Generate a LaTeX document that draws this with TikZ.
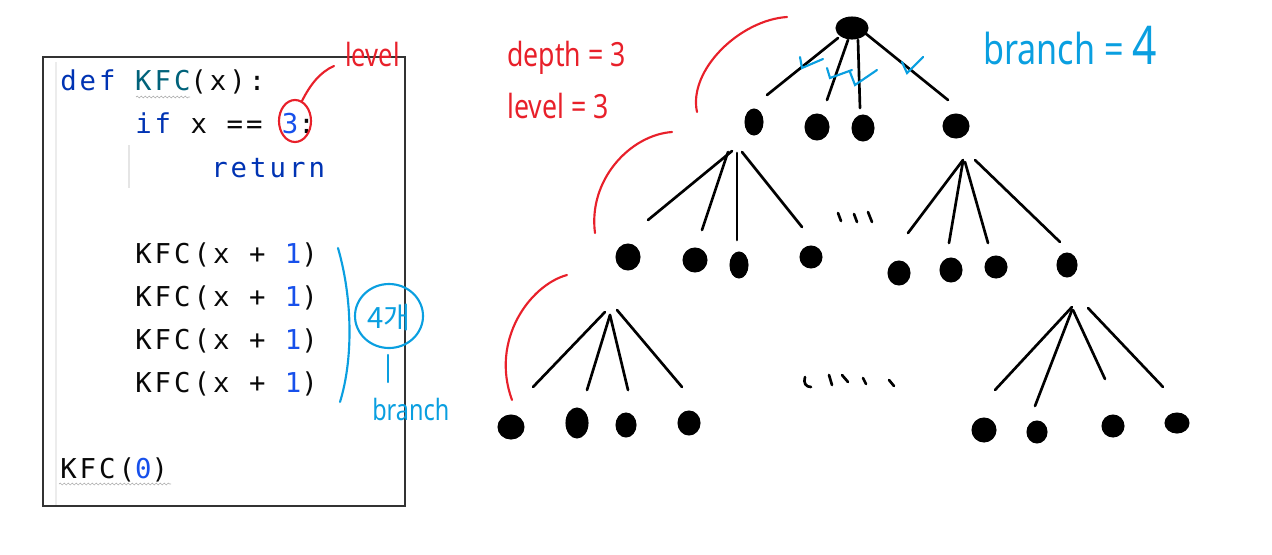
\documentclass[tikz,border=0pt]{standalone}
\usepackage{fontspec}
\usetikzlibrary{shapes.geometric,decorations.pathmorphing}
\newfontfamily\codefont{DejaVu Sans Mono}[LetterSpace=11]
\newfontfamily\handfont{Noto Sans}[FakeStretch=0.8]
\newfontfamily\krfont{Noto Sans CJK KR}
\definecolor{kw}{HTML}{0033B3}
\definecolor{fn}{HTML}{00627A}
\definecolor{num}{HTML}{1750EB}
\definecolor{txt}{HTML}{080808}
\definecolor{hred}{HTML}{E8202A}
\definecolor{hblue}{HTML}{0A9FE0}
\begin{document}
\begin{tikzpicture}[x=0.75pt,y=-0.75pt,
  code/.style={anchor=base west, inner sep=0pt, font=\codefont\fontsize{20.5}{24}\selectfont, text=txt},
  blob/.style 2 args={ellipse, fill=black, draw=black, line width=0.8pt, inner sep=0pt, minimum width=#1*1.5pt, minimum height=#2*1.5pt},
  edge/.style={line width=2pt, line cap=round, black},
  redpen/.style={hred, line width=1.6pt, line cap=round},
  bluepen/.style={hblue, line width=1.6pt, line cap=round},
  inkpen/.style={black, line width=2pt, line cap=round},
  hand/.style={inner sep=0pt, anchor=base west},
  wavy/.style={gray!60, line width=0.5pt, decorate, decoration={snake, amplitude=0.7pt, segment length=3pt}}]
\useasboundingbox (0,0) rectangle (1272,554);

% ---------- code panel ----------
\draw[gray!15, line width=1pt] (56,62) -- (56,506);
\draw[gray!20, line width=0.8pt] (129,145) -- (129,188);
\draw[black!80, line width=0.9pt] (43,57) rectangle (405,506);
\node[code] (l1) at (60,90) {{\color{kw}def} {\color{fn}KFC}(x):};
\node[code] (l2) at (135,133) {{\color{kw}if} x == {\color{num}3}:};
\node[code] (l3) at (211,177) {{\color{kw}return}};
\node[code] (l4) at (135,263) {KFC(x + {\color{num}1})};
\node[code] (l5) at (135,306) {KFC(x + {\color{num}1})};
\node[code] (l6) at (135,349) {KFC(x + {\color{num}1})};
\node[code] (l7) at (135,392) {KFC(x + {\color{num}1})};
\node[code] (l8) at (60,478) {KFC({\color{num}0})};
\draw[wavy] (136,97) -- (190,97);
\draw[wavy] (59,484) -- (171,484);

% red annotation on the code
\draw[redpen] (295,121) ellipse [x radius=16, y radius=21];
\draw[redpen] (302,101) .. controls (310,85) and (320,72) .. (334,66);
\node[hand, text=hred, font=\handfont\fontsize{24}{28}\selectfont] (lvl) at (345,66) {level};

% blue annotation on the code
\draw[bluepen] (338,248) .. controls (353,300) and (353,360) .. (340,402);
\draw[bluepen] (389,316) ellipse [x radius=34, y radius=32];
\node[text=hblue, inner sep=0pt, font=\krfont\fontsize{22}{26}\selectfont] (cnt) at (389,318) {4개};
\draw[bluepen] (388,355) -- (388,382);
\node[hand, text=hblue, font=\handfont\fontsize{22}{26}\selectfont] (br) at (372,420) {branch};

% ---------- labels on the right ----------
\node[hand, text=hred, font=\handfont\fontsize{25}{30}\selectfont] (dep) at (507,66) {depth = 3};
\node[hand, text=hred, font=\handfont\fontsize{25}{30}\selectfont] (lev) at (507,118) {level = 3};
\node[hand, text=hblue, font=\handfont\fontsize{32}{36}\selectfont] (brn) at (983,64) {branch = {\fontsize{40}{44}\selectfont 4}};

% red level arcs
\draw[redpen] (697,112) .. controls (688,70) and (740,20) .. (787,17);
\draw[redpen] (595,233) .. controls (588,180) and (630,135) .. (672,132);
\draw[redpen] (512,400) .. controls (490,340) and (530,285) .. (567,275);

% ---------- tree nodes ----------
\node[blob={16}{11}] (root) at (852,28) {};
\node[blob={9}{13}]  (a1) at (754,122) {};
\node[blob={12}{13}] (a2) at (817,127) {};
\node[blob={11}{13}] (a3) at (863,128) {};
\node[blob={13}{12}] (a4) at (956,126) {};
\node[blob={12}{13}] (b1) at (628,257) {};
\node[blob={12}{12}] (b2) at (695,260) {};
\node[blob={9}{13}]  (b3) at (739,265) {};
\node[blob={11}{11}] (b4) at (811,257) {};
\node[blob={11}{12}] (b5) at (899,273) {};
\node[blob={11}{12}] (b6) at (951,270) {};
\node[blob={11}{11}] (b7) at (996,267) {};
\node[blob={10}{12}] (b8) at (1067,265) {};
\node[blob={13}{12}] (c1) at (511,427) {};
\node[blob={11}{15}] (c2) at (577,423) {};
\node[blob={10}{12}] (c3) at (626,425) {};
\node[blob={11}{12}] (c4) at (689,423) {};
\node[blob={12}{12}] (c5) at (984,430) {};
\node[blob={10}{11}] (c6) at (1037,432) {};
\node[blob={11}{11}] (c7) at (1113,426) {};
\node[blob={12}{10}] (c8) at (1177,423) {};

% ---------- tree edges ----------
\draw[edge] ([shift={(-14,10)}]root.center) -- ([shift={(13,-27)}]a1.center);
\draw[edge] ([shift={(-4,12)}]root.center) -- ([shift={(10,-27)}]a2.center);
\draw[edge] ([shift={(6,12)}]root.center) -- ([shift={(-3,-20)}]a3.center);
\draw[edge] ([shift={(13,5)}]root.center) -- ([shift={(-8,-26)}]a4.center);

\draw[edge] ([shift={(-22,29)}]a1.center) -- ([shift={(20,-37)}]b1.center);
\draw[edge] ([shift={(-26,30)}]a1.center) -- ([shift={(7,-30)}]b2.center);
\draw[edge] ([shift={(-17,31)}]a1.center) -- ([shift={(-2,-25)}]b3.center);
\draw[edge] ([shift={(-12,30)}]a1.center) -- ([shift={(-9,-30)}]b4.center);

\draw[edge] ([shift={(7,34)}]a4.center) -- ([shift={(9,-40)}]b5.center);
\draw[edge] ([shift={(7,35)}]a4.center) -- ([shift={(-2,-27)}]b6.center);
\draw[edge] ([shift={(9,36)}]a4.center) -- ([shift={(-8,-24)}]b7.center);
\draw[edge] ([shift={(19,34)}]a4.center) -- ([shift={(-7,-23)}]b8.center);

\draw[edge] ([shift={(-23,55)}]b1.center) -- ([shift={(22,-40)}]c1.center);
\draw[edge] ([shift={(-18,58)}]b1.center) -- ([shift={(10,-33)}]c2.center);
\draw[edge] ([shift={(-18,58)}]b1.center) -- ([shift={(2,-35)}]c3.center);
\draw[edge] ([shift={(-11,53)}]b1.center) -- ([shift={(-7,-36)}]c4.center);

\draw[edge] ([shift={(5,42)}]b8.center) -- ([shift={(11,-40)}]c5.center);
\draw[edge] ([shift={(5,45)}]b8.center) -- ([shift={(-2,-26)}]c6.center);
\draw[edge] ([shift={(6,45)}]b8.center) -- ([shift={(-8,-47)}]c7.center);
\draw[edge] ([shift={(21,43)}]b8.center) -- ([shift={(-14,-36)}]c8.center);

% ellipsis marks
\draw[inkpen] (838,213) -- (841,221);
\draw[inkpen] (854,214) -- (857,222);
\draw[inkpen] (868,212) -- (872,222);
\draw[inkpen] (805,377) .. controls (803,383) and (806,387) .. (811,387);
\draw[inkpen] (829,375) -- (832,385);
\draw[inkpen] (842,375) -- (848,382);
\draw[inkpen] (863,378) -- (866,384);
\draw[inkpen] (889,380) -- (894,386);

% blue check marks on root edges
\draw[bluepen] (800,57) -- (802,68) -- (823,59);
\draw[bluepen] (827,68) -- (830,78) -- (852,70);
\draw[bluepen] (850,72) -- (855,85) -- (877,70);
\draw[bluepen] (902,62) -- (907,73) -- (923,57);
\end{tikzpicture}
\end{document}
